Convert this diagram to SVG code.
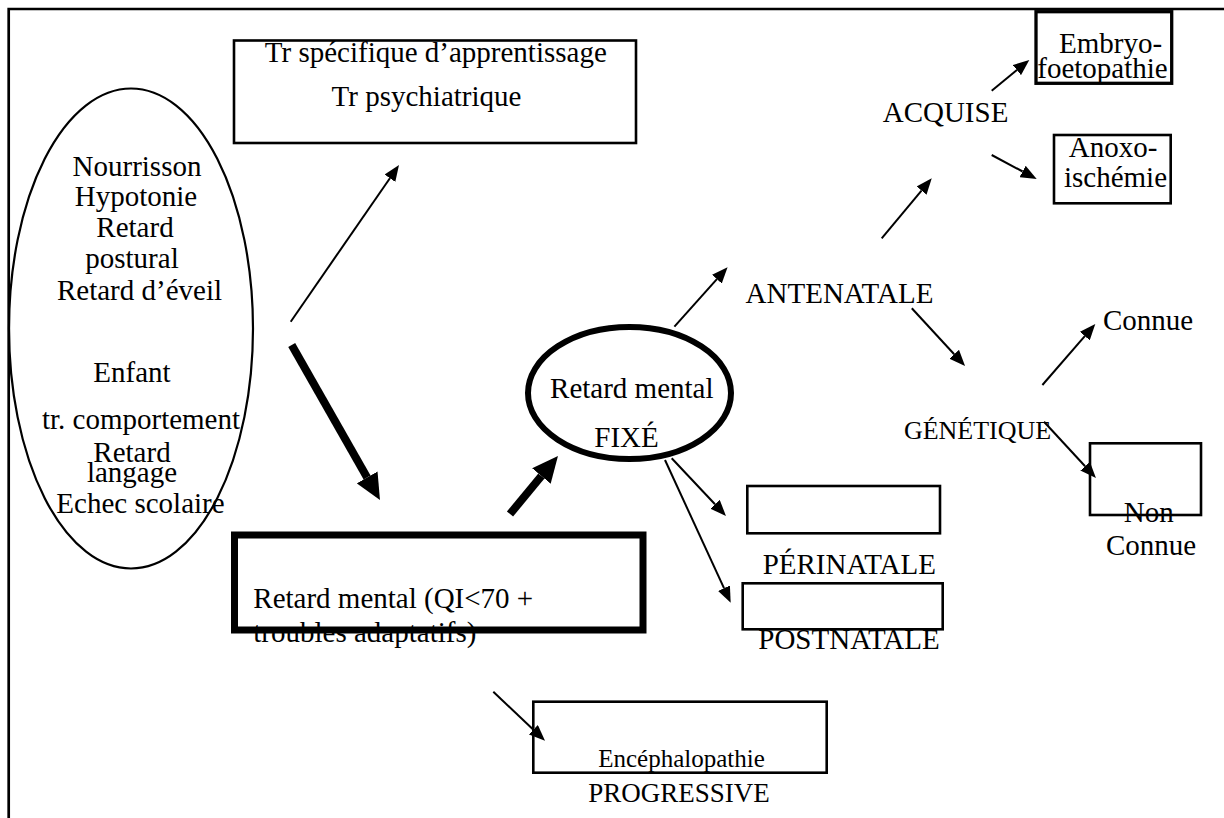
<svg xmlns="http://www.w3.org/2000/svg" width="1224" height="818" viewBox="0 0 1224 818">
<style>
text { font-family: "Liberation Serif", "Times New Roman", serif; font-size: 29px; fill: #000; }
.c { text-anchor: middle; }
.box { fill: none; stroke: #000; stroke-width: 2.6; }
.thin { stroke: #000; stroke-width: 2; fill: none; marker-end: url(#ah); }
.thick { stroke: #000; stroke-width: 8; fill: none; marker-end: url(#ahT); }
</style>
<defs>
<marker id="ah" markerUnits="userSpaceOnUse" viewBox="0 0 16 13" markerWidth="16" markerHeight="13" refX="0" refY="6.5" orient="auto"><path d="M0,0 L16,6.5 L0,13 z" fill="#000"/></marker>
<marker id="ahT" markerUnits="userSpaceOnUse" viewBox="0 0 26 24" markerWidth="26" markerHeight="24" refX="0" refY="12" orient="auto"><path d="M0,0 L26,12 L0,24 z" fill="#000"/></marker>
</defs>
<rect width="1224" height="818" fill="#fff"/>
<path id="frame" d="M8.7,818 V9 H1224" fill="none" stroke="#000" stroke-width="2.7"/>

<g id="symptomes">
<ellipse cx="131" cy="328.5" rx="122" ry="240" fill="none" stroke="#000" stroke-width="2.2"/>
<text class="c" x="137" y="176">Nourrisson</text>
<text class="c" x="136" y="206">Hypotonie</text>
<text class="c" x="135" y="237">Retard</text>
<text class="c" x="132" y="268">postural</text>
<text class="c" x="139.5" y="300">Retard d’éveil</text>
<text class="c" x="132" y="382">Enfant</text>
<text class="c" x="141" y="429">tr. comportement</text>
<text class="c" x="132" y="462">Retard</text>
<text class="c" x="132" y="482">langage</text>
<text class="c" x="140.5" y="513">Echec scolaire</text>
</g>

<g id="tr-specifique">
<rect class="box" x="234" y="40.5" width="402" height="102.5"/>
<text class="c" x="435.8" y="62">Tr spécifique d’apprentissage</text>
<text class="c" x="426.5" y="106">Tr psychiatrique</text>
</g>

<g id="retard-mental">
<text x="253.3" y="608">Retard mental (QI&lt;70 +</text>
<text x="253.3" y="641.7">troubles adaptatifs)</text>
<rect x="234.5" y="535" width="408.5" height="95" fill="none" stroke="#000" stroke-width="7"/>
</g>

<g id="retard-fixe">
<ellipse cx="629.5" cy="393" rx="101.5" ry="66" fill="none" stroke="#000" stroke-width="6"/>
<text class="c" x="631.8" y="398">Retard mental</text>
<text class="c" x="626.5" y="446.7">FIXÉ</text>
</g>

<g id="encephalopathie">
<rect class="box" x="533.3" y="701.7" width="293.4" height="71"/>
<text class="c" x="681.5" y="767" style="font-size:25px">Encéphalopathie</text>
<text class="c" x="679" y="801.7" style="font-size:27px">PROGRESSIVE</text>
</g>

<g id="antenatale">
<text x="745.6" y="303">ANTENATALE</text>
</g>

<g id="acquise">
<text x="882.7" y="122">ACQUISE</text>
</g>

<g id="embryo">
<rect x="1036" y="11.7" width="135.7" height="71.6" fill="none" stroke="#000" stroke-width="3.3"/>
<text class="c" x="1110.5" y="52.5">Embryo-</text>
<text class="c" x="1102.5" y="78">foetopathie</text>
</g>

<g id="anoxo">
<rect class="box" x="1054" y="135" width="116.7" height="68.3"/>
<text class="c" x="1113" y="156.7">Anoxo-</text>
<text class="c" x="1115.5" y="186.7">ischémie</text>
</g>

<g id="genetique">
<text x="903.9" y="439" style="font-size:26px">GÉNÉTIQUE</text>
</g>

<g id="connue">
<text x="1103" y="330">Connue</text>
</g>

<g id="non-connue">
<rect class="box" x="1090" y="443.3" width="111" height="71.7"/>
<text class="c" x="1148.7" y="521.7">Non</text>
<text class="c" x="1151" y="555">Connue</text>
</g>

<g id="perinatale">
<rect class="box" x="747.3" y="486" width="192.7" height="47.3"/>
<text x="762.7" y="574">PÉRINATALE</text>
</g>

<g id="postnatale">
<rect class="box" x="742.7" y="583.3" width="200" height="46"/>
<text x="758.3" y="649.3">POSTNATALE</text>
</g>

<g id="connectors">
<line class="thin" x1="290.7" y1="321.7" x2="389.9" y2="178.2"/>
<line class="thick" x1="291.7" y1="345" x2="367.1" y2="477.4"/>
<line class="thick" x1="510" y1="514" x2="541.4" y2="476"/>
<line class="thin" x1="493.3" y1="691.7" x2="533.4" y2="729.7"/>
<line class="thin" x1="674.4" y1="326.7" x2="716.9" y2="279.2"/>
<line class="thin" x1="881.7" y1="238.3" x2="921.5" y2="190.6"/>
<line class="thin" x1="991.7" y1="90.7" x2="1016.9" y2="70.1"/>
<line class="thin" x1="991.7" y1="155" x2="1022.6" y2="171.5"/>
<line class="thin" x1="911.8" y1="308.3" x2="954.2" y2="354.2"/>
<line class="thin" x1="1042.4" y1="385" x2="1084.8" y2="336.1"/>
<line class="thin" x1="1044" y1="421.7" x2="1085.1" y2="466.2"/>
<line class="thin" x1="671.7" y1="458.3" x2="715" y2="504.3"/>
<line class="thin" x1="665" y1="460" x2="724" y2="588.2"/>
</g>
</svg>
